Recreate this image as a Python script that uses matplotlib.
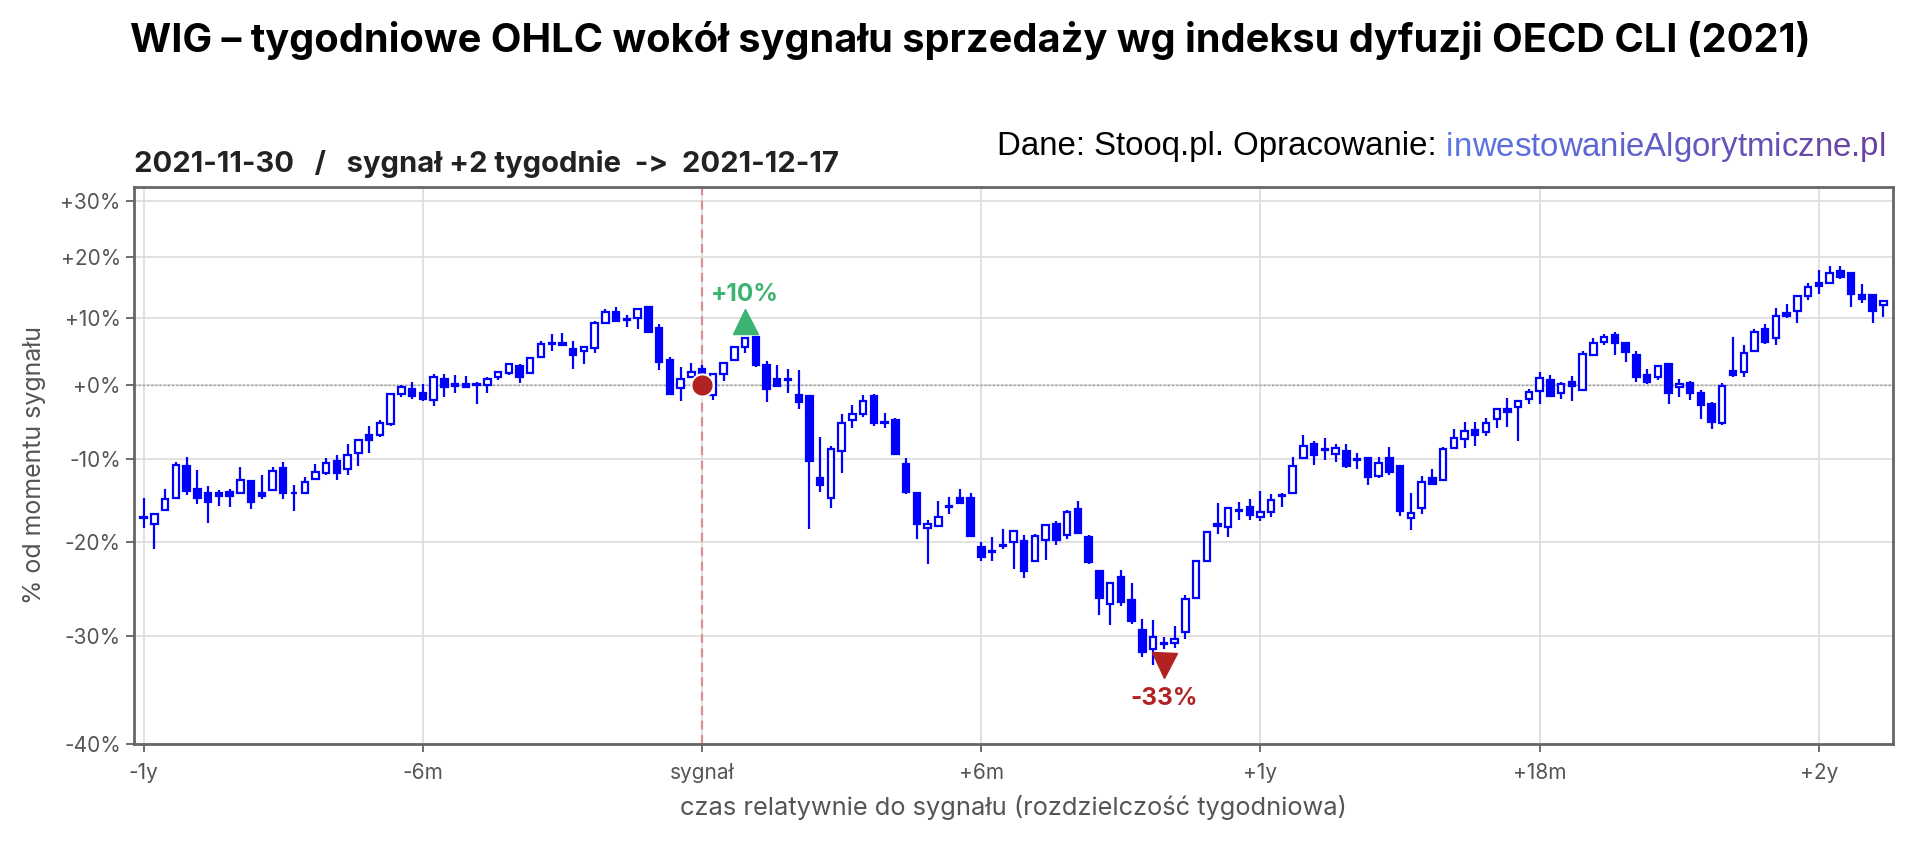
import numpy as np
import matplotlib
matplotlib.use("Agg")
import matplotlib.pyplot as plt
from matplotlib.ticker import FixedLocator, NullLocator

plt.rcParams['font.family'] = ['Inter', 'DejaVu Sans']

# weekly OHLC, % relative to the close in the signal week (week 0)
weeks = list(range(-52, 111))
opens = [-17.1, -18.0, -16.3, -14.9, -10.9, -13.8, -14.3, -14.3, -14.1, -14.2, -12.8, -14.2, -13.9, -11.2, -14.2, -14.2,
         -12.5, -11.8, -10.3, -11.3, -9.2, -6.8, -6.8, -5.4, -1.3, -0.5, -1.1, -2.1, 0.9, 0.1, 0.2, 0.1, 0.0, 1.2, 1.7,
         2.7, 1.7, 4.0, 6.2, 6.1, 5.2, 5.0, 5.4, 9.3, 11.0, 9.8, 10.0, 11.7, 8.4, 3.6, -0.4, 1.2, 2.3, -1.4, 1.6, 3.6,
         5.6, 7.1, 2.9, 0.8, 0.8, -1.4, -1.6, -12.4, -14.9, -9.0, -4.8, -4.1, -1.5, -5.1, -4.8, -10.6, -14.2, -18.4,
         -18.2, -15.8, -14.8, -14.9, -20.6, -21.0, -20.4, -20.0, -19.9, -22.2, -19.8, -18.0, -19.2, -16.2, -19.5,
         -23.2, -26.8, -23.9, -26.4, -29.4, -31.3, -30.7, -30.7, -29.6, -26.1, -22.1, -18.0, -18.3, -16.3, -15.9,
         -17.1, -16.5, -14.5, -14.3, -9.8, -8.1, -8.7, -9.3, -8.9, -10.0, -9.9, -12.1, -9.9, -10.9, -17.2, -16.0,
         -12.4, -12.6, -8.6, -7.4, -6.2, -6.4, -4.7, -3.4, -3.1, -2.0, -0.9, 0.7, -1.1, 0.4, -0.7, 4.3, 6.3, 7.4, 6.2,
         4.4, 1.5, 1.2, 3.0, -0.3, 0.3, -1.1, -2.6, -5.3, 2.0, 1.8, 5.0, 8.3, 6.9, 10.8, 11.1, 13.5, 15.7, 15.6, 17.6,
         17.3, 13.6, 13.6, 12.0]
highs = [-14.8, -16.7, -13.8, -10.4, -9.7, -11.4, -13.4, -13.9, -13.7, -11.0, -12.8, -12.0, -11.0, -10.4, -13.2, -12.3,
         -10.6, -9.9, -9.5, -8.1, -7.5, -5.7, -4.9, -1.3, 0.0, 0.5, 0.2, 1.6, 1.6, 1.4, 1.3, 0.5, 1.1, 2.0, 3.1, 3.0,
         4.0, 6.4, 7.5, 7.7, 6.4, 5.6, 9.5, 11.5, 11.7, 10.5, 11.6, 11.8, 9.1, 4.1, 2.6, 3.2, 2.9, 1.7, 3.2, 5.6, 7.1,
         7.2, 3.5, 2.9, 2.3, 2.2, -1.5, -7.1, -8.3, -4.1, -2.8, -1.4, -1.3, -3.9, -4.6, -9.8, -14.1, -17.5, -15.2,
         -14.7, -13.7, -14.2, -20.0, -19.5, -18.5, -18.7, -19.2, -19.1, -18.0, -17.6, -16.3, -15.2, -19.2, -23.1,
         -24.4, -23.1, -24.5, -28.3, -28.4, -30.1, -29.0, -25.8, -22.0, -18.8, -15.5, -15.9, -15.3, -15.0, -14.0,
         -14.4, -14.2, -9.7, -6.9, -7.6, -7.2, -8.0, -8.1, -9.2, -9.8, -9.7, -8.5, -10.9, -14.2, -12.1, -11.3, -8.4,
         -6.0, -5.1, -5.1, -4.6, -3.2, -1.8, -2.2, -0.6, 1.8, 1.5, 0.4, 1.3, 4.9, 6.9, 7.5, 7.9, 6.2, 4.9, 2.3, 2.9,
         3.2, 0.9, 0.6, -0.7, -2.4, 0.3, 7.1, 5.9, 8.3, 9.1, 11.6, 12.2, 13.5, 15.7, 17.7, 18.4, 18.4, 17.5, 15.5,
         13.6, 12.7]
lows = [-18.4, -20.8, -16.3, -14.9, -14.5, -15.6, -17.8, -15.8, -15.9, -14.2, -16.2, -15.0, -14.0, -15.0, -16.4, -14.2,
        -12.5, -12.0, -12.6, -12.0, -10.9, -9.2, -7.1, -5.6, -1.7, -1.9, -2.3, -3.0, -1.7, -1.1, -0.4, -2.6, -1.1, 0.7,
        1.5, 0.3, 1.7, 4.0, 4.9, 5.7, 2.3, 3.1, 4.7, 9.2, 9.5, 8.6, 8.3, 7.7, 2.2, -1.4, -2.2, 1.0, -1.0, -2.1, 0.6,
        3.5, 4.6, 2.6, -2.4, -0.3, -1.1, -3.3, -18.5, -14.1, -16.0, -11.8, -5.9, -4.5, -5.6, -5.9, -9.5, -14.4, -19.7,
        -22.5, -18.3, -16.8, -15.6, -19.4, -22.1, -22.2, -20.8, -23.0, -24.0, -22.3, -22.0, -20.4, -19.7, -19.1,
        -22.5, -27.9, -28.9, -27.0, -28.8, -32.1, -32.9, -31.3, -31.2, -30.3, -26.2, -22.3, -19.1, -19.4, -17.5,
        -17.5, -17.6, -17.1, -15.9, -14.4, -9.9, -10.8, -10.1, -10.4, -11.2, -11.3, -13.2, -12.4, -12.0, -17.0,
        -18.6, -16.8, -13.2, -12.8, -8.7, -8.6, -8.3, -7.0, -5.9, -5.8, -7.7, -2.7, -2.6, -1.7, -1.9, -2.3, -0.7, 4.2,
        5.9, 4.4, 3.3, 0.4, 0.1, 0.7, -2.7, -1.7, -2.1, -4.7, -6.1, -5.5, 1.2, 1.1, 4.8, 6.0, 5.8, 10.0, 9.2, 12.9,
        13.9, 15.4, 16.3, 11.8, 12.4, 9.2, 10.2]
closes = [-17.2, -16.8, -15.0, -10.8, -14.0, -14.8, -15.3, -14.6, -14.6, -12.7, -15.3, -14.6, -11.5, -14.3, -14.3,
          -12.9, -11.6, -10.5, -11.8, -9.5, -7.5, -7.5, -5.2, -1.3, -0.3, -1.5, -2.0, 1.2, -0.3, -0.1, -0.3, 0.0, 0.8,
          1.8, 3.1, 1.1, 3.9, 6.0, 6.0, 5.9, 4.3, 5.5, 9.2, 10.9, 9.6, 9.7, 11.4, 7.9, 3.4, -1.3, 0.8, 1.8, 0.0, 1.6,
          3.2, 5.5, 6.9, 2.9, -0.5, -0.2, 0.7, -2.4, -10.2, -13.2, -8.7, -5.2, -4.1, -2.2, -5.2, -5.2, -9.4, -14.1,
          -17.9, -17.9, -17.1, -15.9, -15.5, -19.3, -21.7, -21.1, -20.5, -18.7, -23.2, -19.3, -18.1, -19.8, -16.5,
          -19.0, -22.3, -26.1, -24.5, -26.6, -28.5, -31.6, -30.1, -30.8, -30.3, -26.2, -22.1, -18.9, -18.2, -16.1,
          -16.4, -16.9, -16.5, -15.1, -14.6, -10.9, -8.3, -9.5, -8.8, -8.6, -10.9, -10.1, -12.3, -10.5, -11.6, -16.4,
          -16.7, -12.9, -13.1, -8.7, -7.2, -6.3, -6.9, -5.3, -3.4, -3.8, -2.3, -1.0, 1.0, -1.6, 0.1, -0.1, 4.5, 6.1,
          7.0, 6.2, 4.8, 1.1, 0.5, 2.7, -1.1, 0.2, -1.1, -2.8, -5.1, -0.2, 1.5, 4.6, 7.8, 6.3, 10.3, 10.3, 13.5, 14.9,
          15.2, 17.2, 16.6, 13.9, 13.1, 11.1, 12.7]

max_week, max_pct, max_label = 4, 9.6, "+10%"
min_week, min_pct, min_label = 43, -32.9, "-33%"

tick_weeks = [-52, -26, 0, 26, 52, 78, 104]
tick_names = ["-1y", "-6m", "sygnał", "+6m", "+1y", "+18m", "+2y"]
y_ticks_pct = [-40, -30, -20, -10, 0, 10, 20, 30]

W, H = 1914, 843
fig = plt.figure(figsize=(W / 100, H / 100), dpi=100)
ax = fig.add_axes([134 / W, 1 - 744 / H, (1893 - 134) / W, (744 - 187) / H])

x = np.array(weeks)
o = 1 + np.array(opens) / 100
h = 1 + np.array(highs) / 100
l = 1 + np.array(lows) / 100
c = 1 + np.array(closes) / 100

blue = "#0000ff"
up = c >= o
ax.vlines(x, l, h, color=blue, lw=1.6, zorder=3)
bottom = np.minimum(o, c)
height = np.maximum(np.abs(c - o), 1e-4)
ax.bar(x[up], height[up], bottom=bottom[up], width=0.6, facecolor="white", edgecolor=blue, lw=1.6, zorder=4)
ax.bar(x[~up], height[~up], bottom=bottom[~up], width=0.6, facecolor=blue, edgecolor=blue, lw=1.6, zorder=4)

ax.set_yscale("log")
ax.set_ylim(0.6, 1.3255)
ax.set_xlim(-52.9, 110.9)
ax.yaxis.set_major_locator(FixedLocator([1 + p / 100 for p in y_ticks_pct]))
ax.yaxis.set_minor_locator(NullLocator())
ax.set_yticklabels([f"{p:+d}%" for p in y_ticks_pct])
ax.set_xticks(tick_weeks)
ax.set_xticklabels(tick_names)

ax.grid(True, color="#dcdcdc", lw=1.2, zorder=0)
ax.set_axisbelow(True)
ax.axhline(1.0, color="#999999", lw=1.0, ls=(0, (1.5, 1.5)), zorder=1)
ax.axvline(0, color="#d99090", lw=1.6, ls=(0, (4, 2.5)), zorder=2)

ax.plot([0], [1.0], "o", color="#b22222", ms=16, mec="white", mew=1.5, zorder=6)
ax.plot([max_week], [1 + max_pct / 100], "^", color="#3cb371", ms=18, zorder=6)
ax.annotate(max_label, (max_week, 1 + max_pct / 100), xytext=(0, 19), textcoords="offset points",
            ha="center", va="center", color="#3cb371", fontsize=17.5, fontweight="bold", zorder=7)
ax.plot([min_week], [1 + min_pct / 100], "v", color="#b22222", ms=18, zorder=6)
ax.annotate(min_label, (min_week, 1 + min_pct / 100), xytext=(0, -24), textcoords="offset points",
            ha="center", va="center", color="#b22222", fontsize=17.5, fontweight="bold", zorder=7)

for s in ax.spines.values():
    s.set_color("#666666")
    s.set_linewidth(2)
ax.tick_params(colors="#555555", labelsize=15, length=6, width=1.2)
ax.tick_params(axis="x", pad=8)
ax.set_xlabel("czas relatywnie do sygnału (rozdzielczość tygodniowa)", fontsize=18.3, color="#555555", labelpad=8)
ax.set_ylabel("% od momentu sygnału", fontsize=18, color="#555555")
ax.yaxis.set_label_coords(-0.05, 0.5)

fig.text(0.507, 1 - 40 / H, "WIG – tygodniowe OHLC wokół sygnału sprzedaży wg indeksu dyfuzji OECD CLI (2021)",
         ha="center", va="center", fontsize=28.6, fontweight="bold", color="black")
fig.text(134 / W, 1 - 164 / H, "2021-11-30   /   sygnał +2 tygodnie  ->  2021-12-17",
         ha="left", va="center", fontsize=21, fontweight="bold", color="#222222")

# source line with gradient-coloured link
src_font = dict(fontsize=23.8, family=["Liberation Sans", "DejaVu Sans"])
prefix = "Dane: Stooq.pl. Opracowanie: "
link = "inwestowanieAlgorytmiczne.pl"
fig.canvas.draw()
rend = fig.canvas.get_renderer()


def text_width(s):
    t = fig.text(0, 0, s, **src_font)
    w = t.get_window_extent(rend).width
    t.remove()
    return w


y_src = 1 - 147 / H
x_end = 1886
x_start = x_end - text_width(prefix + link)
fig.text(x_start / W, y_src, prefix, ha="left", va="center", color="black", **src_font)
c0 = np.array([0.35, 0.46, 0.91])
c1 = np.array([0.42, 0.25, 0.62])
for i, ch in enumerate(link):
    xr = x_start + text_width(prefix + link[:i + 1])
    col = c0 + (c1 - c0) * i / (len(link) - 1)
    fig.text(xr / W, y_src, ch, ha="right", va="center", color=tuple(col), **src_font)

fig.savefig("out.png", dpi=100)
